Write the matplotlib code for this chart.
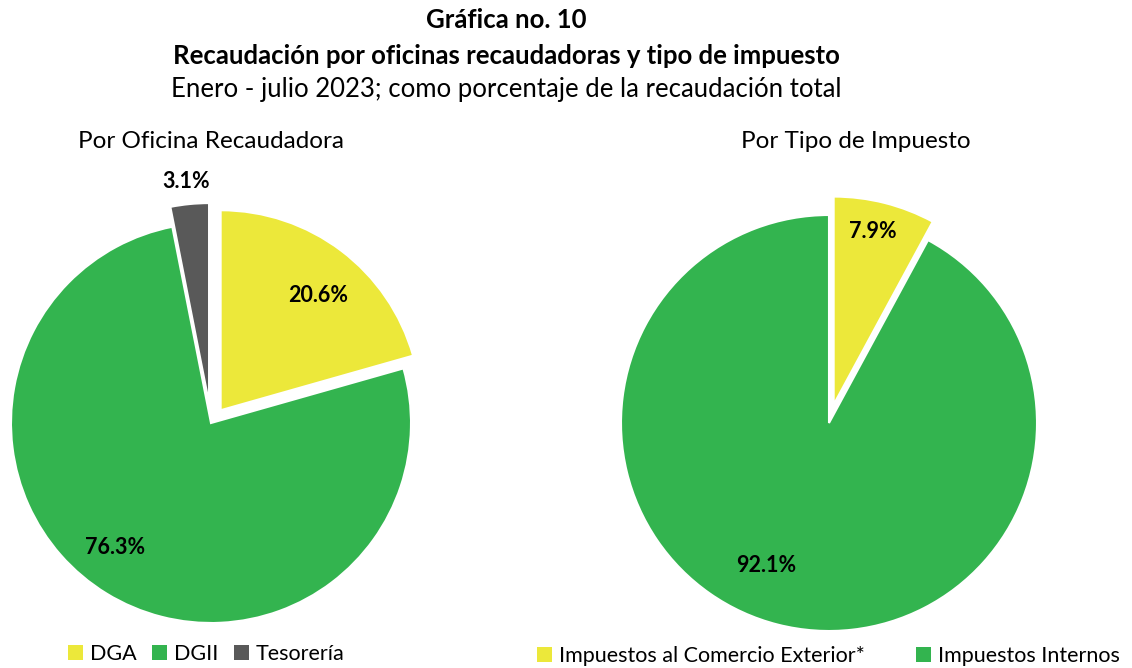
import matplotlib
matplotlib.use("Agg")
import matplotlib.pyplot as plt

plt.rcParams['font.family'] = ['Lato', 'DejaVu Sans']

# Data
oficina_labels = ["DGA", "DGII", "Tesorería"]
oficina_values = [20.6, 76.3, 3.1]
impuesto_labels = ["Impuestos al Comercio Exterior*", "Impuestos Internos"]
impuesto_values = [7.9, 92.1]

YELLOW = "#ECE83A"
GREEN = "#33B44F"
GRAY = "#595959"

W, H = 1132, 668
fig = plt.figure(figsize=(W / 100, H / 100), dpi=100)
ax = fig.add_axes([0, 0, 1, 1])

def Y(y):
    return H - y

# Titles
ax.text(506, Y(20), "Gráfica no. 10", ha='center', va='center', fontsize=18.5, fontweight='bold')
ax.text(506, Y(56), "Recaudación por oficinas recaudadoras y tipo de impuesto",
        ha='center', va='center', fontsize=18.5, fontweight='bold')
ax.text(506, Y(90), "Enero - julio 2023; como porcentaje de la recaudación total",
        ha='center', va='center', fontsize=18.5)
ax.text(211, Y(142), "Por Oficina Recaudadora", ha='center', va='center', fontsize=17.5)
ax.text(856, Y(141), "Por Tipo de Impuesto", ha='center', va='center', fontsize=17.5)

wp = dict(edgecolor='white', linewidth=1.5)

# Left pie (explode given in pixels)
w1, _ = ax.pie(oficina_values, colors=[YELLOW, GREEN, GRAY], startangle=90,
               counterclock=False, center=(211, Y(423)), radius=200,
               explode=[16, 0, 20], wedgeprops=wp, frame=True)
# Right pie
w2, _ = ax.pie(impuesto_values, colors=[YELLOW, GREEN], startangle=90,
               counterclock=False, center=(829, Y(423)), radius=208,
               explode=[19, 0], wedgeprops=wp, frame=True)
ax.set_xlim(0, W)
ax.set_ylim(0, H)
ax.set_aspect('equal')
ax.axis('off')

lab_kw = dict(ha='center', va='center', fontsize=15.5, fontweight='bold')
ax.text(318, Y(295), f"{oficina_values[0]:.1f}%", **lab_kw)
ax.text(186, Y(181), f"{oficina_values[2]:.1f}%", **lab_kw)
ax.text(115, Y(548), f"{oficina_values[1]:.1f}%", **lab_kw)
ax.text(873, Y(232), f"{impuesto_values[0]:.1f}%", **lab_kw)
ax.text(766, Y(565), f"{impuesto_values[1]:.1f}%", **lab_kw)

leg_kw = dict(frameon=False, handlelength=0.7, handleheight=0.7, handletextpad=0.3,
              fontsize=15.5, borderpad=0, borderaxespad=0)
l1 = ax.legend(w1, oficina_labels, ncol=3, loc='center left',
               bbox_to_anchor=(68 / W, 1 - 654 / H), columnspacing=0.75, **leg_kw)
ax.add_artist(l1)
for p in l1.get_patches():
    p.set_edgecolor('none')
l2 = ax.legend(w2, impuesto_labels, ncol=2, loc='center left',
               bbox_to_anchor=(537 / W, 1 - 656 / H), columnspacing=2.4, **leg_kw)
for p in l2.get_patches():
    p.set_edgecolor('none')

fig.savefig("out.png", dpi=100)
